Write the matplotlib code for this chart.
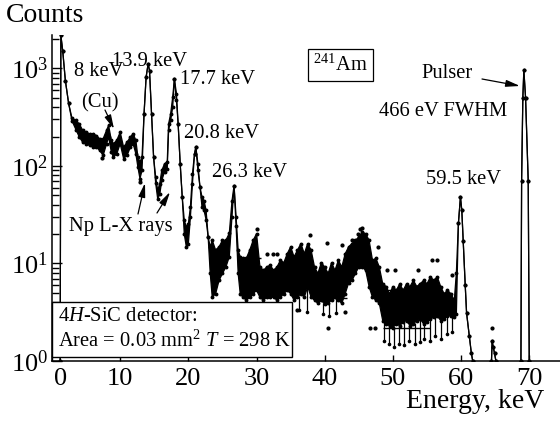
import numpy as np
import matplotlib
matplotlib.use("Agg")
import matplotlib.pyplot as plt
import matplotlib.transforms as mtransforms
from matplotlib.patches import Rectangle, FancyArrowPatch

plt.rcParams['font.family'] = ['Liberation Serif', 'DejaVu Serif']
plt.rcParams['mathtext.fontset'] = 'custom'
plt.rcParams['mathtext.rm'] = 'Liberation Serif'
plt.rcParams['mathtext.it'] = 'Liberation Serif:italic'

nan = np.nan
# ---- spectrum: energy (keV), upper and lower envelope of counts
energy = [1.20, 1.30, 1.57, 1.96, 2.44, 2.93, 3.5, 4.0, 4.5, 5.0, 5.5, 6.0, 6.5, 7.0, 7.5,
          8.0, 8.3, 8.7, 9.0, 9.5, 10.0, 10.5, 11.0, 11.5, 11.9, 12.3, 12.6, 12.9, 13.2,
          13.5, 13.8, 14.1, 14.3, 14.6, 14.9, 15.2, 15.5, 15.8, 16.1, 16.5, 16.9, 17.1,
          17.4, 17.7, 17.95, 18.25, 18.5, 18.8, 19.1, 19.4, 19.7, 20.0, 20.3, 20.6, 20.9,
          21.1, 21.4, 21.7, 22.0, 22.3, 22.6, 22.9, 23.2, 23.5, 24.0, 24.5, 25.0, 25.5,
          26.0, 26.4, 26.7, 27.0, 27.3, 27.6, 28.0, 28.5, 29.0, 29.5, 30.0, 30.5, 31.0,
          31.5, 32.0, 32.5, 33.0, 33.5, 34.0, 34.5, 35.0, 35.5, 36.0, 36.5, 37.0, 37.5,
          38.0, 38.5, 39.0, 39.5, 40.0, 40.5, 41.0, 41.5, 42.0, 42.5, 43.0, 43.5, 44.0,
          44.5, 45.0, 45.5, 46.0, 46.5, 47.0, 47.5, 48.0, 48.5, 49.0, 49.5, 50.0, 50.5,
          51.0, 51.5, 52.0, 52.5, 53.0, 53.5, 54.0, 54.5, 55.0, 55.5, 56.0, 56.5, 57.0,
          57.5, 58.0, 58.5, 59.0, 59.3, 59.6, 59.9, 60.1, 60.3, 60.6, 60.8, 61.2, 61.5,
          61.7, nan, 64.45, 64.55, 64.7, 64.9, 65.1, nan, 68.77, 68.87, 69.05, 69.2, 69.45,
          69.84, 69.99]
counts_upper = [1.0, 2180, 1520, 750, 437, 309, 293, 270, 232, 222, 214, 214, 205, 190, 190,
                232, 261, 183, 169, 183, 222, 156, 175, 198, 214, 183, 123, 110, 123,
                343, 813, 1115, 950, 343, 123, 77, 56, 66, 90, 105, 110, 270,
                343, 507, 783, 551, 270, 105, 48, 27.7, 23.7, 25.6, 38, 83, 133,
                156, 105, 61, 48, 44, 35, 18.7, 14.8, 17.3, 13.7, 14.8, 17.3, 17.3,
                20.4, 44, 63, 30, 13.7, 11.7, 11.3, 11.3, 13.7, 17.3, 20.2, 9.2, 8.5,
                9.2, 9.6, 8.5, 9.2, 10.8, 10.2, 12.6, 14.8, 11.7, 13.7, 16, 12.6, 16,
                13.7, 9.2, 7.9, 10.2, 9.2, 7.9, 10.2, 8.5, 10.8, 9.2, 12.6, 14.8, 16,
                17.3, 18.7, 21, 20.2, 17.3, 10.8, 11.3, 9.2, 6.2, 5.8, 4.9, 5.8, 5.3,
                6.2, 5.3, 6.2, 5.8, 6.7, 5.8, 6.2, 6.7, 6.2, 7.3, 6.7, 7.3, 5.8,
                4.9, 5.3, 4.9, 4.2, 8, 25.7, 48, 35, 17, 6, 3.1, 1.8, 1.2,
                1.0, nan, 1.0, 1.6, 1.4, 1.2, 1.0, nan, 1.0, 70, 500, 960, 500,
                70, 1.0]
counts_lower = [1.0, 2180, 1520, 750, 437, 290, 236, 198, 175, 169, 162, 156, 156, 144, 128,
                169, 198, 139, 123, 133, 169, 119, 128, 156, 169, 133, 97, 74, 90,
                343, 813, 1115, 950, 343, 123, 67, 46, 51, 71, 87, 94, 232,
                293, 400, 783, 470, 270, 105, 48, 20, 14.8, 16, 30, 66, 133,
                156, 90, 61, 38, 35, 28, 18.7, 8, 4.5, 4.9, 6.7, 7.9, 9.2,
                11.7, 30, 63, 24, 7.9, 4.9, 4.5, 4.2, 4.5, 4.9, 5.3, 4.5, 4.2,
                4.5, 4.5, 4.5, 4.2, 4.5, 4.9, 5.3, 4.9, 4.2, 4.5, 4.9, 4.5, 5.8,
                4.5, 4.2, 3.9, 4.2, 3.8, 3.9, 4.2, 4.5, 4.2, 3.9, 4.9, 6.3, 6.7,
                7.9, 9.2, 9.2, 8.5, 5.8, 4.5, 4.2, 3.9, 2.6, 2.4, 2.3, 2.2, 2.4,
                2.3, 2.5, 2.6, 2.3, 2.4, 2.6, 2.7, 2.4, 2.5, 2.7, 2.8, 2.9, 2.6,
                2.7, 2.9, 2.9, 2.8, 3, 25.7, 48, 35, 17, 6, 3.1, 1.8, 1.2,
                1.0, nan, 1.0, 1.6, 1.4, 1.2, 1.0, nan, 1.0, 70, 500, 960, 500,
                70, 1.0]

# thin downward spikes below the continuum (energy, lowest count)
spike_energy = [36.2, 37.4, 39.8, 40.6, 41.7, 48.7, 49.4, 50.1, 50.9, 51.6, 52.4, 53.2,
                53.9, 54.6, 55.4, 56.2, 57.1, 57.9, 58.7]
spike_low = [3.3, 3.2, 3.0, 2.9, 3.1, 1.6, 1.5, 1.4, 1.5, 1.45, 1.6, 1.5, 1.55, 1.7,
             1.6, 1.8, 1.7, 1.9, 2.0]

# isolated points scattered above/below the noisy continuum
stray_energy = [7.4, 12.9, 30.0, 31.5, 32.4, 33.0, 35.9, 37.8, 40.3, 40.5, 42.5, 42.9,
                44.0, 44.9, 45.2, 45.4, 46.6, 47.3, 47.8, 49.1, 50.3, 53.7, 55.7, 56.4,
                58.6, 64.5]
stray_counts = [120, 68, 22.8, 12.6, 12.6, 12.6, 3.3, 19.6, 16.3, 2.2, 15.4, 3.2,
                17.5, 20.2, 22.8, 23, 2.2, 2.2, 14.8, 8.5, 8.5, 8.5, 10.8, 10.8,
                7.6, 2.2]

# horizontal connector segments visible in the continuum
bar_level = [11.3, 7.9, 4.4, 2.2, 5.3]
bar_start = [27.5, 30.8, 38.3, 48.6, 48.2]
bar_end = [30.6, 35.0, 43.2, 55.4, 52.0]

xtick_values = [0, 10, 20, 30, 40, 50, 60, 70]
ytick_values = [1, 10, 100, 1000]
ytick_labels = ['10$^0$', '10$^1$', '10$^2$', '10$^3$']

W, H = 560, 424
fig = plt.figure(figsize=(W / 100, H / 100), dpi=100)
ax = fig.add_axes([52 / W, 63 / H, 508 / W, 326 / H])

E = np.array(energy, dtype=float)
U = np.array(counts_upper, dtype=float)
L = np.array(counts_lower, dtype=float)
spE = np.array(spike_energy)
spTop = np.interp(spE, E[~np.isnan(E)], L[~np.isnan(E)])

ax.fill_between(E, L, U, color='black', lw=0, zorder=2)
ax.plot(E, U, color='black', lw=0.9, marker='o', ms=1.8, zorder=3)
ax.plot(E, L, color='black', lw=0.9, marker='o', ms=1.8, zorder=3)
ax.vlines(spE, spike_low, spTop, colors='black', lw=0.9, zorder=3)
ax.plot(spE, spike_low, 'o', color='black', ms=1.6, zorder=3)
ax.plot(stray_energy, stray_counts, 'o', color='black', ms=2.0, zorder=3)
ax.hlines(bar_level, bar_start, bar_end, colors='black', lw=1.0, zorder=3)

ax.set_yscale('log')
ax.set_xlim(0, 74.5)
ax.set_ylim(1, 2200)
ax.set_yticks(ytick_values, labels=ytick_labels)
ax.set_xticks(xtick_values, labels=[str(v) for v in xtick_values])
for s in ['top', 'right']:
    ax.spines[s].set_visible(False)
for s in ['left', 'bottom']:
    ax.spines[s].set_linewidth(1.1)
ax.tick_params(axis='both', which='both', direction='in', labelsize=19, width=1.0)
ax.tick_params(axis='y', which='major', length=7, pad=3)
ax.tick_params(axis='y', which='minor', length=5)
ax.tick_params(axis='x', which='major', length=4, pad=5)
ax.xaxis.set_minor_locator(matplotlib.ticker.NullLocator())
# first x label sits a little to the right in the reference
off = mtransforms.ScaledTranslation(9 / 100, 0, fig.dpi_scale_trans)
lbl0 = ax.get_xticklabels()[0]
lbl0.set_transform(lbl0.get_transform() + off)

def fp(x, y):
    return (x / W, 1 - y / H)

fig.text(*fp(6, 16), 'Counts', fontsize=20, ha='left', va='center')
fig.text(*fp(544, 401), 'Energy, keV', fontsize=20, ha='right', va='center')

fs = 14.8
for txt, x, y in [('13.9 keV', 149, 61), ('8 keV', 98.5, 72), ('(Cu)', 99.5, 103),
                  ('17.7 keV', 217.5, 80), ('20.8 keV', 221, 133), ('26.3 keV', 250, 173),
                  ('Np L-X rays', 120.5, 227), ('Pulser', 447.5, 74),
                  ('466 eV FWHM', 443.5, 111), ('59.5 keV', 463, 179)]:
    fig.text(*fp(x, y), txt, fontsize=fs, ha='center', va='center', zorder=5)

fig.text(*fp(340.5, 65), '$^{241}$Am', fontsize=fs, ha='center', va='center',
         bbox=dict(boxstyle='square,pad=0.25', fc='white', ec='black', lw=0.9))

arrow_kw = dict(arrowstyle='-|>,head_length=0.7,head_width=0.17', lw=0.9, color='black',
                shrinkA=0, shrinkB=0)
for (x0, y0), (x1, y1) in [((105, 110), (114, 129)), ((138, 214), (145, 183)),
                           ((157, 213), (170, 192)), ((482, 79), (520, 86))]:
    fig.add_artist(FancyArrowPatch(fp(x0, y0), fp(x1, y1), transform=fig.transFigure,
                                   mutation_scale=12, **arrow_kw))

# detector info box
ax.add_patch(Rectangle((0, 0.012), 0.472, 0.169, transform=ax.transAxes,
                       fc='white', ec='black', lw=1.0, zorder=6, clip_on=False))
ax.text(0.012, 0.135, '4$H$-SiC detector:', transform=ax.transAxes, fontsize=fs,
        ha='left', va='center', zorder=7)
ax.text(0.012, 0.062, 'Area = 0.03 mm$^2$ $T$ = 298 K', transform=ax.transAxes,
        fontsize=fs, ha='left', va='center', zorder=7)

fig.savefig('out.png', dpi=100)
